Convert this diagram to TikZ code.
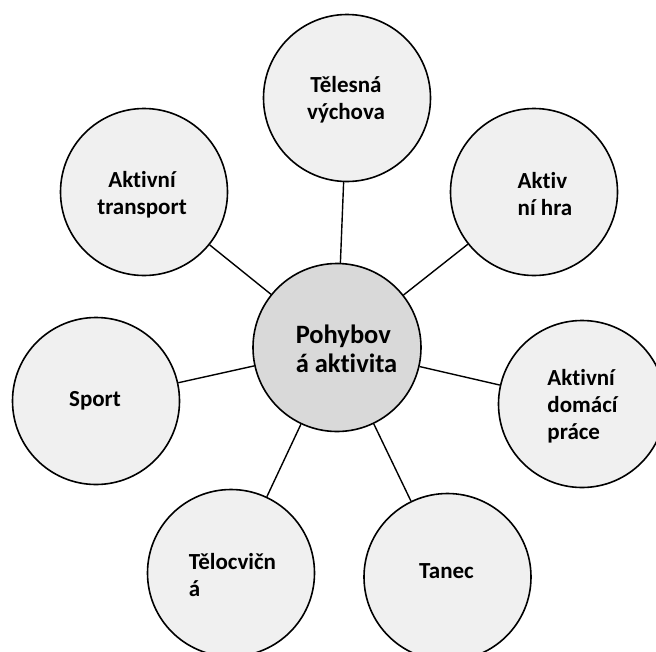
\documentclass[tikz,border=0pt]{standalone}
\usepackage{fontspec}
\setmainfont{Carlito}[Ligatures={NoCommon}]
\definecolor{outerfill}{HTML}{F0F0F0}
\definecolor{centerfill}{HTML}{D9D9D9}
\tikzset{
  bubble/.style={circle, draw=black, line width=1.6pt, fill=outerfill, minimum size=167pt, inner sep=0pt},
  hub/.style={circle, draw=black, line width=1.6pt, fill=centerfill, minimum size=168pt, inner sep=0pt},
  lbl/.style={font=\fontsize{23}{27}\selectfont\bfseries, inner sep=0pt, align=left},
  hublbl/.style={font=\fontsize{26.5}{29}\selectfont\bfseries, inner sep=0pt, align=left},
  link/.style={draw=black, line width=1.4pt}
}
\begin{document}
\begin{tikzpicture}[x=1pt,y=-1pt]
\useasboundingbox (0,0) rectangle (656,651);
\clip (0,0) rectangle (656,651);
\fill[white] (0,0) rectangle (656,651);
% circles
\node[hub] (c) at (337,347.5) {};
\node[bubble] (tv) at (347,98) {};
\node[bubble] (ah) at (534,192) {};
\node[bubble] (ad) at (582,404) {};
\node[bubble] (ta) at (447.5,577) {};
\node[bubble] (tc) at (231,573) {};
\node[bubble] (sp) at (96,401) {};
\node[bubble] (at) at (144,192) {};
% connectors
\draw[link] (c) -- (tv);
\draw[link] (c) -- (ah);
\draw[link] (c) -- (ad);
\draw[link] (c) -- (ta);
\draw[link] (c) -- (tc);
\draw[link] (c) -- (sp);
\draw[link] (c) -- (at);
% labels
\node[hublbl] (lc) at (346.5,349) {Pohybov\\á aktivita};
\node[lbl, align=center] (ltv) at (346,100) {Tělesná\\výchova};
\node[lbl] (lah) at (545,194.5) {Aktiv\\ní hra};
\node[lbl] (lad) at (582.5,406) {Aktivní\\domácí\\práce};
\node[lbl] (lta) at (446.5,571.5) {Tanec};
\node[lbl] (ltc) at (232.5,575.5) {Tělocvičn\\á};
\node[lbl] (lsp) at (95,400.5) {Sport};
\node[lbl, align=center] (lat) at (142,194.5) {Aktivní\\transport};
\end{tikzpicture}
\end{document}
